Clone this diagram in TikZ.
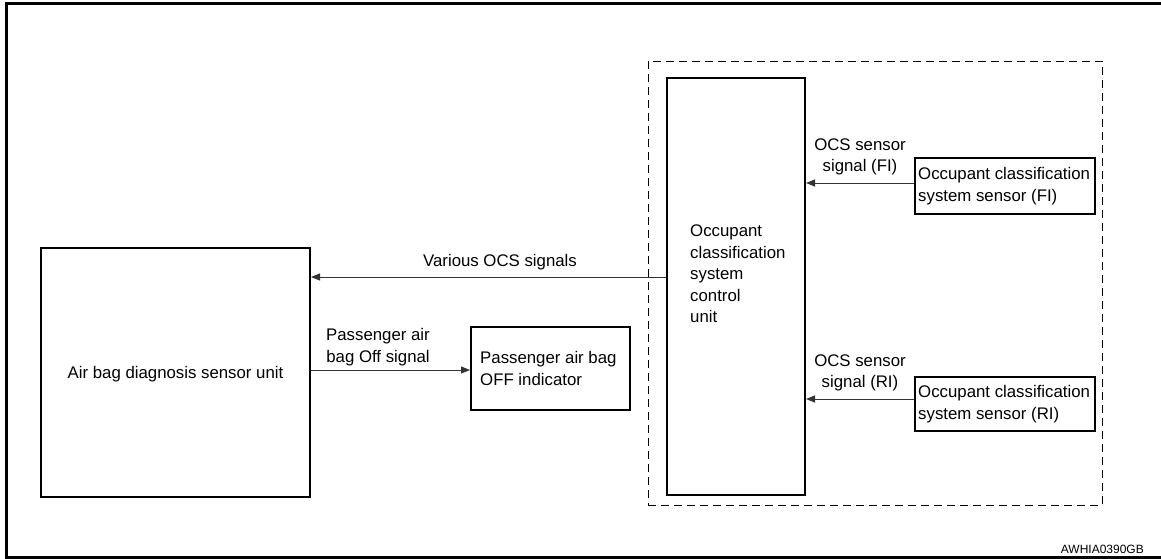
\documentclass[tikz,border=0pt]{standalone}
\usepackage{fontspec}
\setmainfont{Liberation Sans}
\usetikzlibrary{arrows.meta}
\begin{document}
\begin{tikzpicture}[x=1pt,y=-1pt,
  box/.style={draw, line width=2pt, inner sep=0pt},
  txt/.style={font=\fontsize{16.8}{21.5}\selectfont, inner sep=0pt},
  sig/.style={draw=black!80, line width=1pt, -{Triangle[length=9pt,width=7pt]}},
  frame/.style={line width=3pt}]
\useasboundingbox (0,0) rectangle (1161,559);
% outer frame
\coordinate (ftr) at (1161,4);
\coordinate (ftl) at (6,4);
\coordinate (fbl) at (6,557);
\coordinate (fbr) at (1161,557);
\draw[frame] (ftr) -- (ftl) -- (fbl) -- (fbr);
% dashed group
\node[draw, dashed, dash pattern=on 8pt off 5pt, line width=0.9pt, minimum width=454pt, minimum height=444pt, inner sep=0pt] (grp) at (875,283) {};
% boxes
\node[box, minimum width=269pt, minimum height=249pt] (diag) at (175.5,372.5) {};
\node[txt] (diagt) at (175.5,374) {Air bag diagnosis sensor unit};
\node[box, minimum width=159pt, minimum height=83pt] (ind) at (550.5,368.5) {};
\node[txt, align=left, anchor=west] (indt) at (480,368.5) {Passenger air bag\\OFF indicator};
\node[box, minimum width=138pt, minimum height=417pt] (ecu) at (736,286.5) {};
\node[txt, align=left, anchor=west] (ecut) at (690,274) {Occupant\\classification\\system\\control\\unit};
\node[box, minimum width=180pt, minimum height=56pt] (sfi) at (1005,186) {};
\node[txt, align=left, anchor=west] (sfit) at (918,186) {Occupant classification\\system sensor (FI)};
\node[box, minimum width=180pt, minimum height=54pt] (sri) at (1005,404) {};
\node[txt, align=left, anchor=west] (srit) at (918,404) {Occupant classification\\system sensor (RI)};
% connectors
\draw[sig] (ecu.west |- 0,277) -- (diag.east |- 0,277);
\draw[sig] (diag.east |- 0,370) -- (ind.west |- 0,370);
\draw[sig] (sfi.west |- 0,183) -- (ecu.east |- 0,183);
\draw[sig] (sri.west |- 0,399) -- (ecu.east |- 0,399);
% labels
\node[txt] (lvar) at (500,262) {Various OCS signals};
\node[txt, align=center] (lpass) at (378,347) {Passenger air\\bag Off signal};
\node[txt, align=center] (lfi) at (860,157) {OCS sensor\\signal (FI)};
\node[txt, align=center] (lri) at (860,373) {OCS sensor\\signal (RI)};
\node[font=\fontsize{12}{14}\selectfont, inner sep=0pt, anchor=east] (code) at (1144,549) {AWHIA0390GB};
\end{tikzpicture}
\end{document}
